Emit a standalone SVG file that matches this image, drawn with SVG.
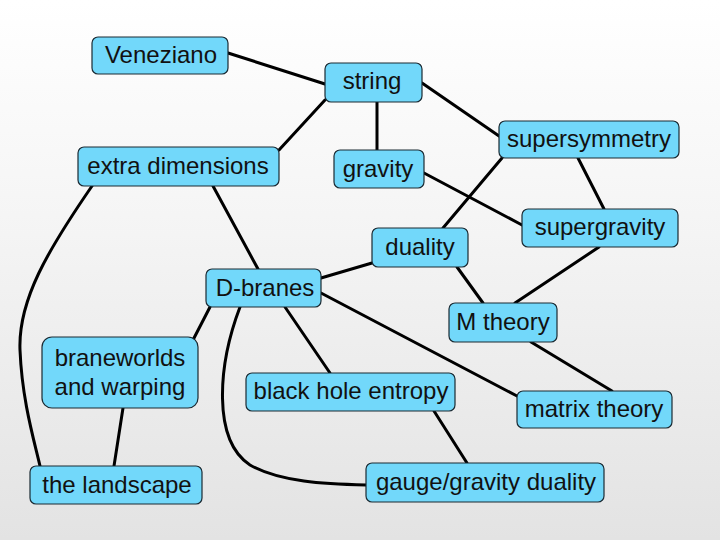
<svg xmlns="http://www.w3.org/2000/svg" width="720" height="540" viewBox="0 0 720 540">
<defs>
<linearGradient id="bg" x1="0" y1="0" x2="0" y2="1">
<stop offset="0" stop-color="#ffffff"/>
<stop offset="0.4" stop-color="#f5f5f5"/>
<stop offset="1" stop-color="#e3e3e3"/>
</linearGradient>
<style>
.node rect{fill:#72d8fa;stroke:#1a2a33;stroke-width:1.2}
.node text{font-family:"Liberation Sans",Arial,sans-serif;font-size:24px;fill:#111;text-anchor:middle}
#connectors path,#connectors line{stroke:#000;stroke-width:3;fill:none;stroke-linecap:round}
</style>
</defs>
<rect width="720" height="540" fill="url(#bg)"/>
<g id="connectors">
<line x1="228" y1="53" x2="325" y2="84"/>
<line x1="325" y1="100" x2="279" y2="150"/>
<line x1="377" y1="102" x2="377" y2="150"/>
<line x1="422" y1="83" x2="499" y2="136"/>
<line x1="502" y1="158" x2="443" y2="228"/>
<line x1="424" y1="173" x2="522" y2="225"/>
<line x1="578" y1="158" x2="604" y2="209"/>
<line x1="599" y1="247" x2="515" y2="303"/>
<line x1="457" y1="267" x2="483" y2="303"/>
<line x1="372" y1="263" x2="321" y2="278"/>
<line x1="321" y1="293" x2="517" y2="396"/>
<line x1="285" y1="307" x2="330" y2="373"/>
<line x1="210" y1="307" x2="193" y2="340"/>
<path d="M240,307 C218,365 212,440 250,465 C280,482 325,484 366,485"/>
<line x1="434" y1="411" x2="467" y2="463"/>
<line x1="531" y1="342" x2="612" y2="391"/>
<line x1="123" y1="408" x2="114" y2="466"/>
<path d="M92,186 C48,250 18,300 20,350 C22,400 34,440 40,466"/>
<line x1="213" y1="186" x2="258" y2="269"/>
</g>
<g id="veneziano" class="node"><rect x="92" y="37" width="136" height="37" rx="6"/><text x="161" y="63">Veneziano</text></g>
<g id="string" class="node"><rect x="325" y="63" width="97" height="39" rx="6"/><text x="372" y="89">string</text></g>
<g id="supersymmetry" class="node"><rect x="499" y="121" width="180" height="37" rx="6"/><text x="589" y="147">supersymmetry</text></g>
<g id="gravity" class="node"><rect x="334" y="150" width="90" height="38" rx="6"/><text x="378" y="177">gravity</text></g>
<g id="extra-dimensions" class="node"><rect x="78" y="147" width="201" height="39" rx="6"/><text x="178" y="174">extra dimensions</text></g>
<g id="supergravity" class="node"><rect x="522" y="209" width="156" height="38" rx="6"/><text x="600" y="235">supergravity</text></g>
<g id="duality" class="node"><rect x="372" y="228" width="96" height="39" rx="6"/><text x="420" y="255">duality</text></g>
<g id="d-branes" class="node"><rect x="206" y="269" width="115" height="38" rx="6"/><text x="265" y="296">D-branes</text></g>
<g id="m-theory" class="node"><rect x="449" y="303" width="108" height="39" rx="6"/><text x="503" y="330">M theory</text></g>
<g id="braneworlds" class="node"><rect x="42" y="337" width="156" height="71" rx="10"/><text x="120" y="366">braneworlds</text><text x="120" y="395">and warping</text></g>
<g id="black-hole-entropy" class="node"><rect x="246" y="373" width="209" height="38" rx="6"/><text x="351" y="399">black hole entropy</text></g>
<g id="matrix-theory" class="node"><rect x="517" y="391" width="155" height="37" rx="6"/><text x="594" y="417">matrix theory</text></g>
<g id="the-landscape" class="node"><rect x="30" y="466" width="172" height="38" rx="6"/><text x="117" y="493">the landscape</text></g>
<g id="gauge-gravity-duality" class="node"><rect x="366" y="463" width="238" height="39" rx="6"/><text x="486" y="490">gauge/gravity duality</text></g>
</svg>
